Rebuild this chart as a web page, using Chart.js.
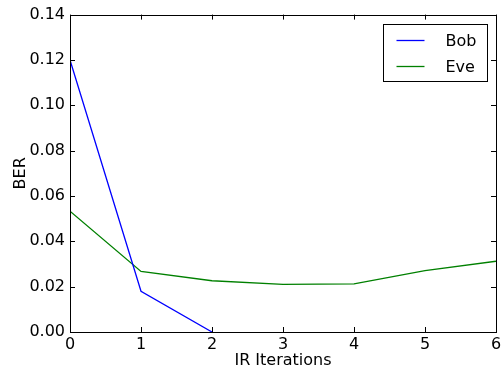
<!DOCTYPE html>
<html>
<head>
<meta charset="utf-8">
<script src="https://cdn.jsdelivr.net/npm/chart.js@4/dist/chart.umd.min.js"></script>
<style>
  html, body { margin: 0; padding: 0; background: #fff; }
  #wrap { width: 501px; height: 370px; }
</style>
</head>
<body>
<div id="wrap"><canvas id="berChart" width="501" height="370"></canvas></div>
<script>
const iterations = [0, 1, 2, 3, 4, 5, 6];
const bobBer = [0.12, 0.018, 0.0];
const eveBer = [0.0533, 0.0267, 0.0226, 0.021, 0.0212, 0.0271, 0.0312];
const yTicks = [0, 0.02, 0.04, 0.06, 0.08, 0.1, 0.12, 0.14];

const FONT = "'DejaVu Sans', sans-serif";

// frame + inward ticks + boxed legend (matplotlib look)
const mplFrame = {
  id: "mplFrame",
  afterDraw(chart) {
    const ctx = chart.ctx;
    const a = chart.chartArea;
    const xs = chart.scales.x, ys = chart.scales.y;
    ctx.save();
    ctx.strokeStyle = "#000";
    ctx.lineWidth = 1;
    ctx.strokeRect(Math.round(a.left) + 0.5, Math.round(a.top) + 0.5,
      Math.round(a.right - a.left), Math.round(a.bottom - a.top));
    ctx.beginPath();
    xs.ticks.forEach((t) => {
      const px = Math.round(xs.getPixelForValue(t.value)) + 0.5;
      ctx.moveTo(px, a.bottom); ctx.lineTo(px, a.bottom - 5);
      ctx.moveTo(px, a.top); ctx.lineTo(px, a.top + 5);
    });
    ys.ticks.forEach((t) => {
      const py = Math.round(ys.getPixelForValue(t.value)) + 0.5;
      ctx.moveTo(a.left, py); ctx.lineTo(a.left + 5, py);
      ctx.moveTo(a.right, py); ctx.lineTo(a.right - 5, py);
    });
    ctx.stroke();

    // legend
    const bx = Math.round(a.right) - 112.5, by = Math.round(a.top) + 9.5, bw = 104, bh = 57;
    ctx.fillStyle = "#fff";
    ctx.fillRect(bx, by, bw, bh);
    ctx.strokeRect(bx, by, bw, bh);
    ctx.font = "16px " + FONT;
    ctx.textBaseline = "middle";
    ctx.textAlign = "left";
    chart.data.datasets.forEach((ds, i) => {
      const y = by + 16 + i * 26;
      ctx.strokeStyle = ds.borderColor;
      ctx.lineWidth = 1.3;
      ctx.beginPath();
      ctx.moveTo(bx + 13, y); ctx.lineTo(bx + 41, y);
      ctx.stroke();
      ctx.fillStyle = "#000";
      ctx.fillText(ds.label, bx + 62, y + 1);
    });
    ctx.restore();
  },
};

new Chart(document.getElementById("berChart"), {
  type: "line",
  data: {
    labels: iterations,
    datasets: [
      {
        label: "Bob",
        data: bobBer.map((v, i) => ({ x: iterations[i], y: v })),
        borderColor: "#0000ff",
        borderWidth: 1.3,
        pointRadius: 0,
        fill: false,
      },
      {
        label: "Eve",
        data: eveBer.map((v, i) => ({ x: iterations[i], y: v })),
        borderColor: "#008000",
        borderWidth: 1.3,
        pointRadius: 0,
        fill: false,
      },
    ],
  },
  options: {
    responsive: false,
    animation: false,
    layout: { padding: { left: 11, right: 5, top: 13, bottom: 0 } },
    plugins: { legend: { display: false }, tooltip: { enabled: false } },
    scales: {
      x: {
        type: "linear",
        min: 0,
        max: 6,
        grid: { display: false, drawTicks: false },
        border: { display: false },
        ticks: { stepSize: 1, color: "#000", font: { family: FONT, size: 16 }, padding: 3, maxRotation: 0 },
        title: { display: true, text: "IR Iterations", color: "#000", font: { family: FONT, size: 16 }, padding: { top: 0, bottom: 0 } },
        afterFit(scale) { scale.height = 38; scale.paddingRight = 0; },
      },
      y: {
        min: 0,
        max: 0.14,
        grid: { display: false, drawTicks: false },
        border: { display: false },
        afterBuildTicks(scale) { scale.ticks = yTicks.map((v) => ({ value: v })); },
        ticks: {
          color: "#000",
          font: { family: FONT, size: 16 },
          padding: 5,
          callback: (v) => Number(v).toFixed(2),
        },
        title: { display: true, text: "BER", color: "#000", font: { family: FONT, size: 16 }, padding: { top: 0, bottom: 0 } },
        afterFit(scale) { scale.width = 59; },
      },
    },
  },
  plugins: [mplFrame],
});
</script>
</body>
</html>
